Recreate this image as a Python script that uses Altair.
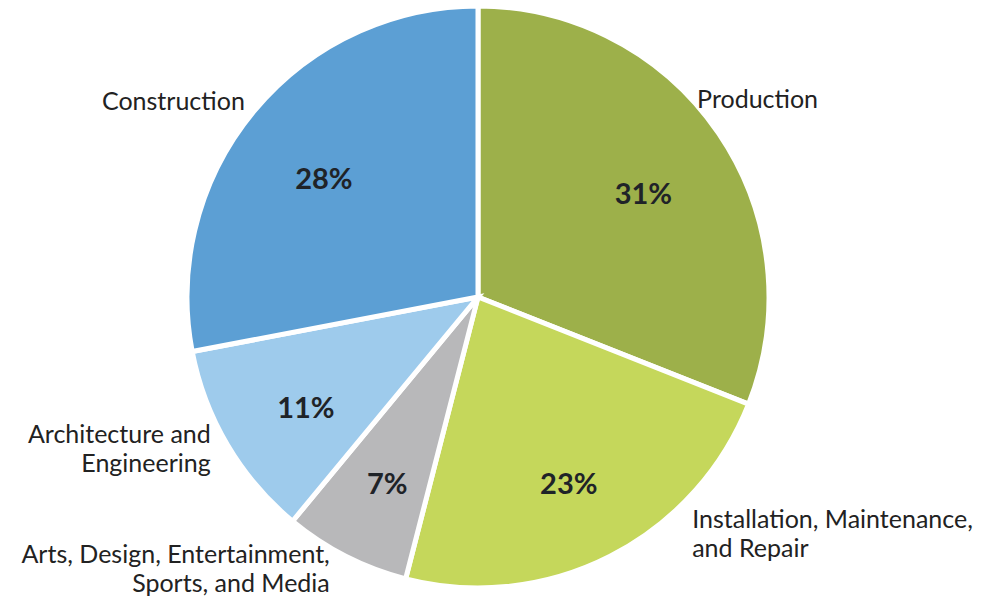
import altair as alt
import pandas as pd

categories = ["Production", "Installation, Maintenance,\nand Repair", "Arts, Design, Entertainment,\nSports, and Media", "Architecture and\nEngineering", "Construction"]
keys = ["Production", "Installation", "Arts", "Architecture", "Construction"]
values = [31, 23, 7, 11, 28]
colors = ["#9db04a", "#c5d75b", "#b8b8ba", "#9ecbec", "#5c9fd4"]

df = pd.DataFrame({
    "key": keys,
    "label": categories,
    "value": values,
    "idx": list(range(len(keys))),
    "pct": [f"{v}%" for v in values],
})

theta = alt.Theta("value:Q", stack=True)
order = alt.Order("idx:Q")

base = alt.Chart(df)

arcs = base.mark_arc(radius=291, stroke="white", strokeWidth=5).encode(
    theta=theta,
    order=order,
    color=alt.Color("key:N", scale=alt.Scale(domain=keys, range=colors), sort=keys, legend=None),
)

pct = base.mark_text(radius=200, dy=10, font="Lato", fontSize=29, fontWeight="bold", color="#1f2328").encode(
    theta=theta, order=order, text="pct:N"
)

def outer(key, align, dx, dy):
    return base.mark_text(
        radius=300, font="Lato", fontSize=25, color="#222222", align=align,
        baseline="middle", dx=dx, dy=dy, lineBreak="\n", lineHeight=29,
    ).encode(theta=theta, order=order, text="label:N", opacity=alt.condition(
        alt.datum.key == key, alt.value(1), alt.value(0)))

labels = [
    outer("Production", "left", -29, -28),
    outer("Installation", "left", 78, -44),
    outer("Arts", "right", -12, -9),
    outer("Architecture", "right", -9, -15),
    outer("Construction", "right", -2, -4),
]

chart = alt.layer(arcs, pct, *labels).properties(
    width=956, height=594,
    autosize=alt.AutoSizeParams(type="none"),
    padding={"left": 0, "top": 0, "right": 27, "bottom": 6},
).configure_view(stroke=None)

chart.save("out.html", embed_options={"renderer": "svg", "actions": False})
